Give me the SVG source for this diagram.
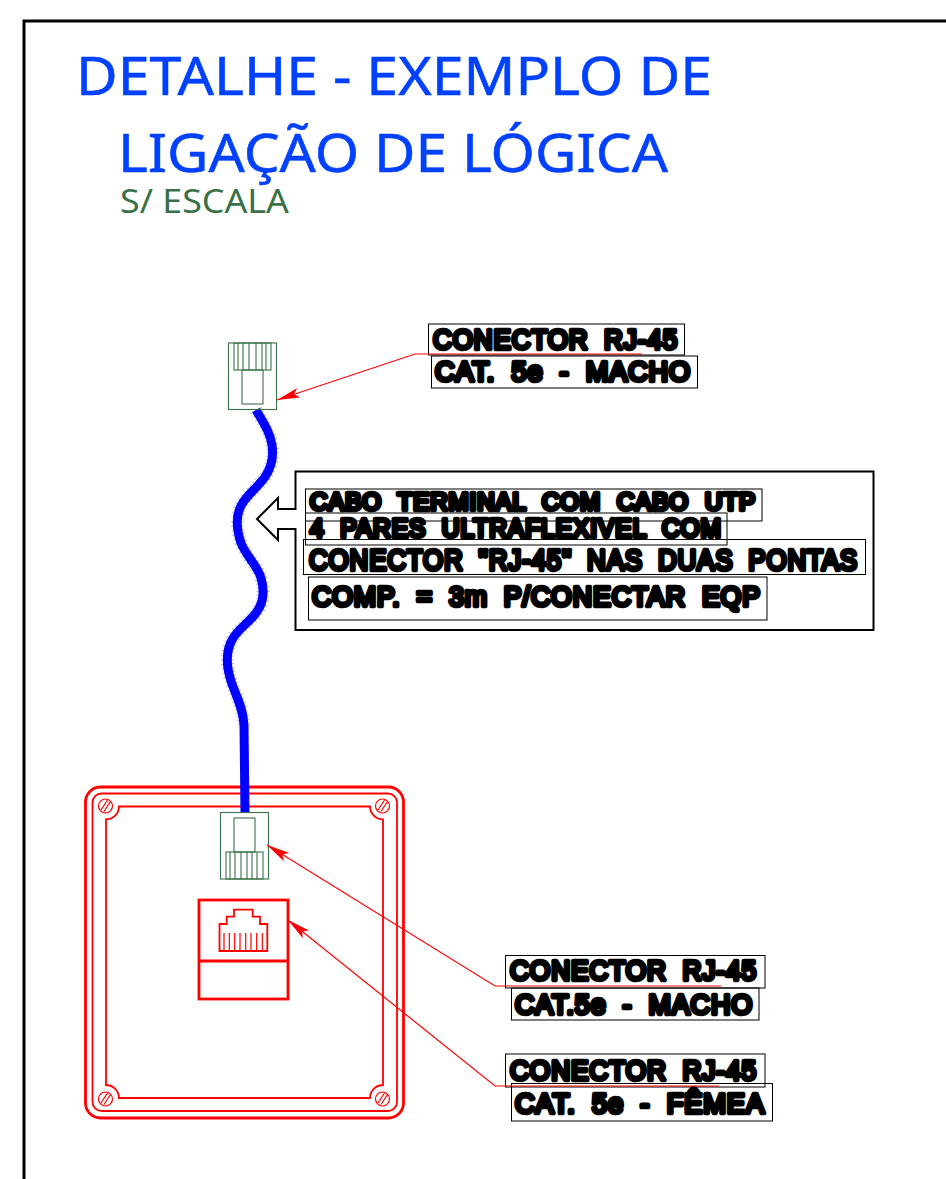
<svg xmlns="http://www.w3.org/2000/svg" width="946" height="1179" viewBox="0 0 946 1179">
<style>
.title{font-family:"Noto Sans","DejaVu Sans",sans-serif;font-size:53px;fill:#0040ff;stroke:#0040ff;stroke-width:.5px}
.sub{font-family:"Noto Sans","DejaVu Sans",sans-serif;font-size:32px;fill:#3a7048}
.lbl{font-family:"Liberation Sans",Arial,sans-serif;fill:#000;stroke:#000;stroke-width:4.6px;stroke-linejoin:round;stroke-linecap:round;letter-spacing:1px;word-spacing:8px}
.box{fill:none;stroke:#000;stroke-width:1}
.g{fill:none;stroke:#3a7048;stroke-width:1.1}
.r1{fill:none;stroke:#f00;stroke-width:1.2}
.r2{fill:none;stroke:#f00;stroke-width:1.8}
.r3{fill:none;stroke:#f00;stroke-width:2.8}
.lead{fill:none;stroke:#f00;stroke-width:1.2}
</style>
<defs>
<marker id="ah" markerUnits="userSpaceOnUse" markerWidth="24" markerHeight="12" refX="23" refY="6" orient="auto" viewBox="0 0 24 12"><path d="M0,1 L23,6 L0,11 L5,6 Z" fill="#f00"/></marker>
</defs>
<rect width="946" height="1179" fill="#fff"/>
<path id="frame" d="M24,1179 V21 H946" fill="none" stroke="#000" stroke-width="3"/>
<g id="title">
<text class="title" x="76" y="95" textLength="636" lengthAdjust="spacingAndGlyphs">DETALHE - EXEMPLO DE</text>
<text class="title" x="118" y="172" textLength="550" lengthAdjust="spacingAndGlyphs">LIGAÇÃO DE LÓGICA</text>
<text class="sub" x="120" y="213" textLength="169" lengthAdjust="spacingAndGlyphs">S/ ESCALA</text>
</g>
<g id="enclosure">
<rect class="r3" x="85.5" y="787" width="318" height="331" rx="15"/>
<rect class="r2" x="92.5" y="793.500" width="304.500" height="317.500" rx="9"/>
<path class="r2" d="M119,806.500 H370 A13,13 0 0 0 383,819.500 V1085 A13,13 0 0 0 370,1098 H119 A13,13 0 0 0 106,1085 V819.500 A13,13 0 0 0 119,806.500 Z"/>
<g class="r1">
<circle cx="105.500" cy="806" r="7"/><path d="M101,810 L107.500,800 M104,811.500 L110.500,801.500"/>
<circle cx="382.500" cy="806" r="7"/><path d="M378,810 L384.500,800 M381,811.500 L387.500,801.500"/>
<circle cx="105.500" cy="1099" r="7"/><path d="M101,1103 L107.500,1093 M104,1104.500 L110.500,1094.500"/>
<circle cx="382.500" cy="1099" r="7"/><path d="M378,1103 L384.500,1093 M381,1104.500 L387.500,1094.500"/>
</g>
</g>
<g id="cable">
<path d="M256,410 C263,422 270,432 272,445 C274,458 271,468 265,477 C258,487 248,494 242,504 C236,514 236,528 241,543 C246,556 258,566 261,578 C265,592 263,604 256,613 C248,624 236,630 231,642 C225,655 227,670 232,684 C237,698 243,708 244,725" fill="none" stroke="#0000ff" stroke-opacity=".35" stroke-width="13" stroke-dasharray=".8 3.4"/>
<path d="M256,410 C263,422 270,432 272,445 C274,458 271,468 265,477 C258,487 248,494 242,504 C236,514 236,528 241,543 C246,556 258,566 261,578 C265,592 263,604 256,613 C248,624 236,630 231,642 C225,655 227,670 232,684 C237,698 243,708 244,725 L245,813" fill="none" stroke="#0000ff" stroke-width="9"/>
</g>
<g id="plug-top" class="g">
<rect class="g" x="228.500" y="343" width="48" height="66.500"/>
<rect class="g" x="234" y="343" width="37" height="27"/>
<rect class="g" x="242" y="370" width="21" height="34"/>
<path class="g" d="M238,343 V370 M243,343 V370 M249,343 V370 M256,343 V370 M262,343 V370 M266,343 V370"/>
</g>
<g id="plug-bottom">
<rect class="g" x="220.500" y="812.500" width="48" height="66.500"/>
<rect class="g" x="234" y="818" width="21" height="34"/>
<rect class="g" x="226" y="852" width="37" height="27"/>
<path class="g" d="M230,852 V879 M235,852 V879 M241,852 V879 M247,852 V879 M252,852 V879 M257,852 V879"/>
</g>
<g id="jack">
<rect class="r3" x="199" y="900" width="89" height="99"/>
<path class="r3" d="M199,961 H288"/>
<path class="r2" d="M219.500,951 V924 H226.700 V916.700 H234 V909.700 H252.700 V916.700 H260 V924 H267.300 V951 Z"/>
<path class="r1" d="M224,933 V951 M229.300,933 V951 M234.700,933 V951 M240,933 V951 M245.700,933 V951 M251,933 V951 M256.700,933 V951 M262.300,933 V951"/>
</g>
<g id="label-top">
<rect class="box" x="428.500" y="324" width="256" height="31"/>
<rect class="box" x="431.500" y="356" width="266" height="32"/>
<text class="lbl" x="433" y="349" font-size="28" textLength="245" lengthAdjust="spacingAndGlyphs">CONECTOR RJ-45</text>
<text class="lbl" x="435" y="381" font-size="28" textLength="256" lengthAdjust="spacingAndGlyphs">CAT. 5e - MACHO</text>
</g>
<g id="label-cable">
<path d="M295.500,509 V471.500 H873.500 V630 H295.500 V529 H278 V540 L257,519 L278,498 V509 Z" fill="none" stroke="#000" stroke-width="2"/>
<rect class="box" x="305.500" y="489" width="456.500" height="32"/>
<rect class="box" x="305.500" y="513" width="421.500" height="32"/>
<rect class="box" x="303.500" y="539.500" width="562" height="35"/>
<rect class="box" x="308.500" y="577" width="458.500" height="43"/>
<text class="lbl" x="310" y="510" font-size="23" textLength="446" lengthAdjust="spacingAndGlyphs">CABO TERMINAL COM CABO UTP</text>
<text class="lbl" x="310" y="537" font-size="25" textLength="412" lengthAdjust="spacingAndGlyphs">4 PARES ULTRAFLEXIVEL COM</text>
<text class="lbl" x="309" y="570" font-size="30" textLength="549" lengthAdjust="spacingAndGlyphs">CONECTOR "RJ-45" NAS DUAS PONTAS</text>
<text class="lbl" x="312" y="606" font-size="28" textLength="449" lengthAdjust="spacingAndGlyphs">COMP. = 3m P/CONECTAR EQP</text>
</g>
<g id="label-macho">
<rect class="box" x="505.500" y="955.500" width="259.500" height="32.500"/>
<rect class="box" x="511.500" y="988" width="247.500" height="32"/>
<text class="lbl" x="510" y="980" font-size="28" textLength="247" lengthAdjust="spacingAndGlyphs">CONECTOR RJ-45</text>
<text class="lbl" x="515" y="1014" font-size="28" textLength="238" lengthAdjust="spacingAndGlyphs">CAT.5e - MACHO</text>
</g>
<g id="label-femea">
<rect class="box" x="505.500" y="1054" width="259.500" height="33"/>
<rect class="box" x="511.500" y="1083.500" width="261" height="37.500"/>
<text class="lbl" x="510" y="1080" font-size="28" textLength="247" lengthAdjust="spacingAndGlyphs">CONECTOR RJ-45</text>
<text class="lbl" x="515" y="1113" font-size="28" textLength="250" lengthAdjust="spacingAndGlyphs">CAT. 5e - FÊMEA</text>
</g>
<g id="connectors">
<path class="lead" d="M642,354 H415 L277,400" marker-end="url(#ah)"/>
<path class="lead" d="M721,986 H495 L267,845" marker-end="url(#ah)"/>
<path class="lead" d="M719,1086 H495 L288,920" marker-end="url(#ah)"/>
</g>
</svg>
